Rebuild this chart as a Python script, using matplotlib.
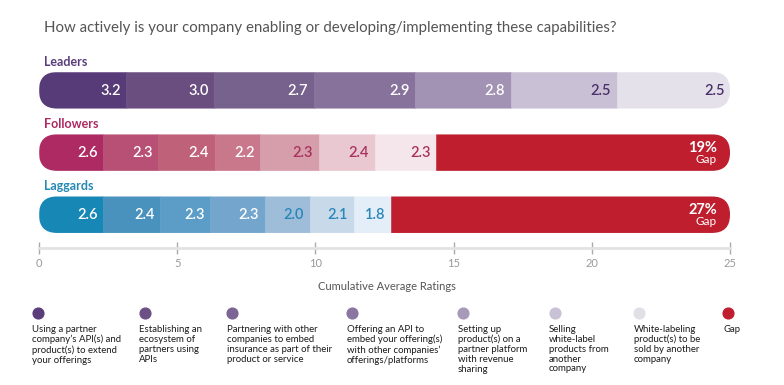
import numpy as np
import matplotlib.pyplot as plt
from matplotlib.patches import FancyBboxPatch

plt.rcParams['font.family'] = ['Lato', 'DejaVu Sans']

# data
groups = ['Leaders', 'Followers', 'Laggards']
leaders_vals = [3.2, 3.0, 2.7, 2.9, 2.8, 2.5, 2.5]
followers_vals = [2.6, 2.3, 2.4, 2.2, 2.3, 2.4, 2.3]
laggards_vals = [2.6, 2.4, 2.3, 2.3, 2.0, 2.1, 1.8]
# segment lengths as they sit on the cumulative axis
leaders_len = [3.15, 3.19, 3.60, 3.68, 3.45, 3.83, 4.10]
followers_len = [2.31, 2.01, 2.03, 1.66, 2.11, 2.02, 2.24]
laggards_len = [2.31, 2.07, 1.82, 1.96, 1.63, 1.60, 1.36]
gap_labels = [None, '19%', '27%']
axis_max = 25
xticks = [0, 5, 10, 15, 20, 25]

legend_labels = [
    "Using a partner\ncompany\u2019s API(s) and\nproduct(s) to extend\nyour offerings",
    "Establishing an\necosystem of\npartners using\nAPIs",
    "Partnering with other\ncompanies to embed\ninsurance as part of their\nproduct or service",
    "Offering an API to\nembed your offering(s)\nwith other companies\u2019\nofferings/platforms",
    "Setting up\nproduct(s) on a\npartner platform\nwith revenue\nsharing",
    "Selling\nwhite-label\nproducts from\nanother\ncompany",
    "White-labeling\nproduct(s) to be\nsold by another\ncompany",
    "Gap",
]

# styles
leaders_col = ['#573a78', '#6a4e80', '#77618d', '#86729b', '#a292b3', '#cac0d5', '#e4e1ea']
followers_col = ['#ad2a63', '#b84f74', '#bf6179', '#c9788b', '#d69dab', '#e9c8d1', '#f4e6ea']
laggards_col = ['#1787b5', '#4992bd', '#5c9dc8', '#74a6cd', '#9ebdd9', '#c8d9ea', '#e4eef8']
gap_col = '#be1e2d'
legend_col = ['#5a3d7a', '#6c4f85', '#7c6494', '#8a76a0', '#a79ab9', '#c9c1d6', '#e2e0e6', '#c01e2e']
name_col = ['#5a3d7a', '#ad2a63', '#2589b5']
dark_txt = ['#4a2f6a', '#a8325e', '#2a86b8']
n_white = [5, 4, 4]

W, H = 784, 385
x0, ppu = 39, 27.64          # pixel of 0 and pixels per rating unit


def px(p):
    return (p - x0) / ppu


fig = plt.figure(figsize=(W / 100, H / 100), dpi=100)
ax = fig.add_axes([0, 0, 1, 1])
ax.set_xlim(px(0), px(W))
ax.set_ylim(H, 0)

ax.text(px(44), 28, "How actively is your company enabling or developing/implementing these capabilities?",
        fontsize=10.8, color='#555555', va='center', ha='left')

centers = [90.3, 152.6, 214.7]
bh = 36.5
all_vals = [leaders_vals, followers_vals, laggards_vals]
all_len = [leaders_len, followers_len, laggards_len]
all_col = [leaders_col, followers_col, laggards_col]

for g in range(3):
    yc = centers[g]
    lens = list(all_len[g])
    cols = list(all_col[g])
    lefts = list(np.concatenate([[0], np.cumsum(lens)[:-1]]))
    end = sum(lens)
    if gap_labels[g]:
        lefts.append(end)
        lens.append(axis_max - end)
        cols.append(gap_col)
    clip = FancyBboxPatch((0, yc - bh / 2), axis_max, bh,
                          boxstyle="round,pad=0,rounding_size=%f" % (bh / 2 / ppu * 0.99),
                          mutation_aspect=ppu, transform=ax.transData,
                          facecolor='none', edgecolor='none')
    ax.add_patch(clip)
    bars = ax.barh(yc, lens, left=lefts, height=bh, color=cols, edgecolor=cols, linewidth=0.4)
    for b in bars:
        b.set_clip_path(clip)

    ax.text(px(44), yc - 28.5, groups[g], fontsize=9, fontweight='bold',
            color=name_col[g], va='center', ha='left')

    for i, v in enumerate(all_vals[g]):
        right = lefts[i] + lens[i]
        c = 'white' if i < n_white[g] else dark_txt[g]
        ax.text(right - 5.5 / ppu, yc + 0.5, "%.1f" % v, fontsize=10.5, fontweight='semibold',
                color=c, ha='right', va='center')
    if gap_labels[g]:
        ax.text(axis_max - 13 / ppu, yc - 5, gap_labels[g], fontsize=10.5, fontweight='bold',
                color='white', ha='right', va='center')
        ax.text(axis_max - 13 / ppu, yc + 7, "Gap", fontsize=8.5,
                color='white', ha='right', va='center')

# axis
for s in ['top', 'left', 'right']:
    ax.spines[s].set_visible(False)
ax.spines['bottom'].set_position(('data', 248))
ax.spines['bottom'].set_bounds(0, axis_max)
ax.spines['bottom'].set_color('#e2e2e2')
ax.spines['bottom'].set_linewidth(2)
ax.set_xticks(xticks)
ax.set_xticklabels([str(t) for t in xticks])
ax.tick_params(axis='x', direction='inout', length=8, width=1, color='#aaaaaa',
               labelcolor='#999999', labelsize=8, pad=3)
ax.set_yticks([])
ax.text(12.6, 286, "Cumulative Average Ratings", fontsize=8, color='#555555',
        ha='center', va='center')

# legend
dot_px = [38, 145, 232, 352, 463, 555, 639, 728]
txt_px = [32, 139, 227, 347, 458, 549, 634, 723]
for i, lab in enumerate(legend_labels):
    ax.scatter(px(dot_px[i]), 313, s=60, color=legend_col[i], clip_on=False, zorder=3)
    ax.text(px(txt_px[i]), 325, lab, fontsize=6.9, color='#1a1a1a', ha='left', va='top',
            linespacing=1.12)

fig.savefig('out.png', dpi=100)
